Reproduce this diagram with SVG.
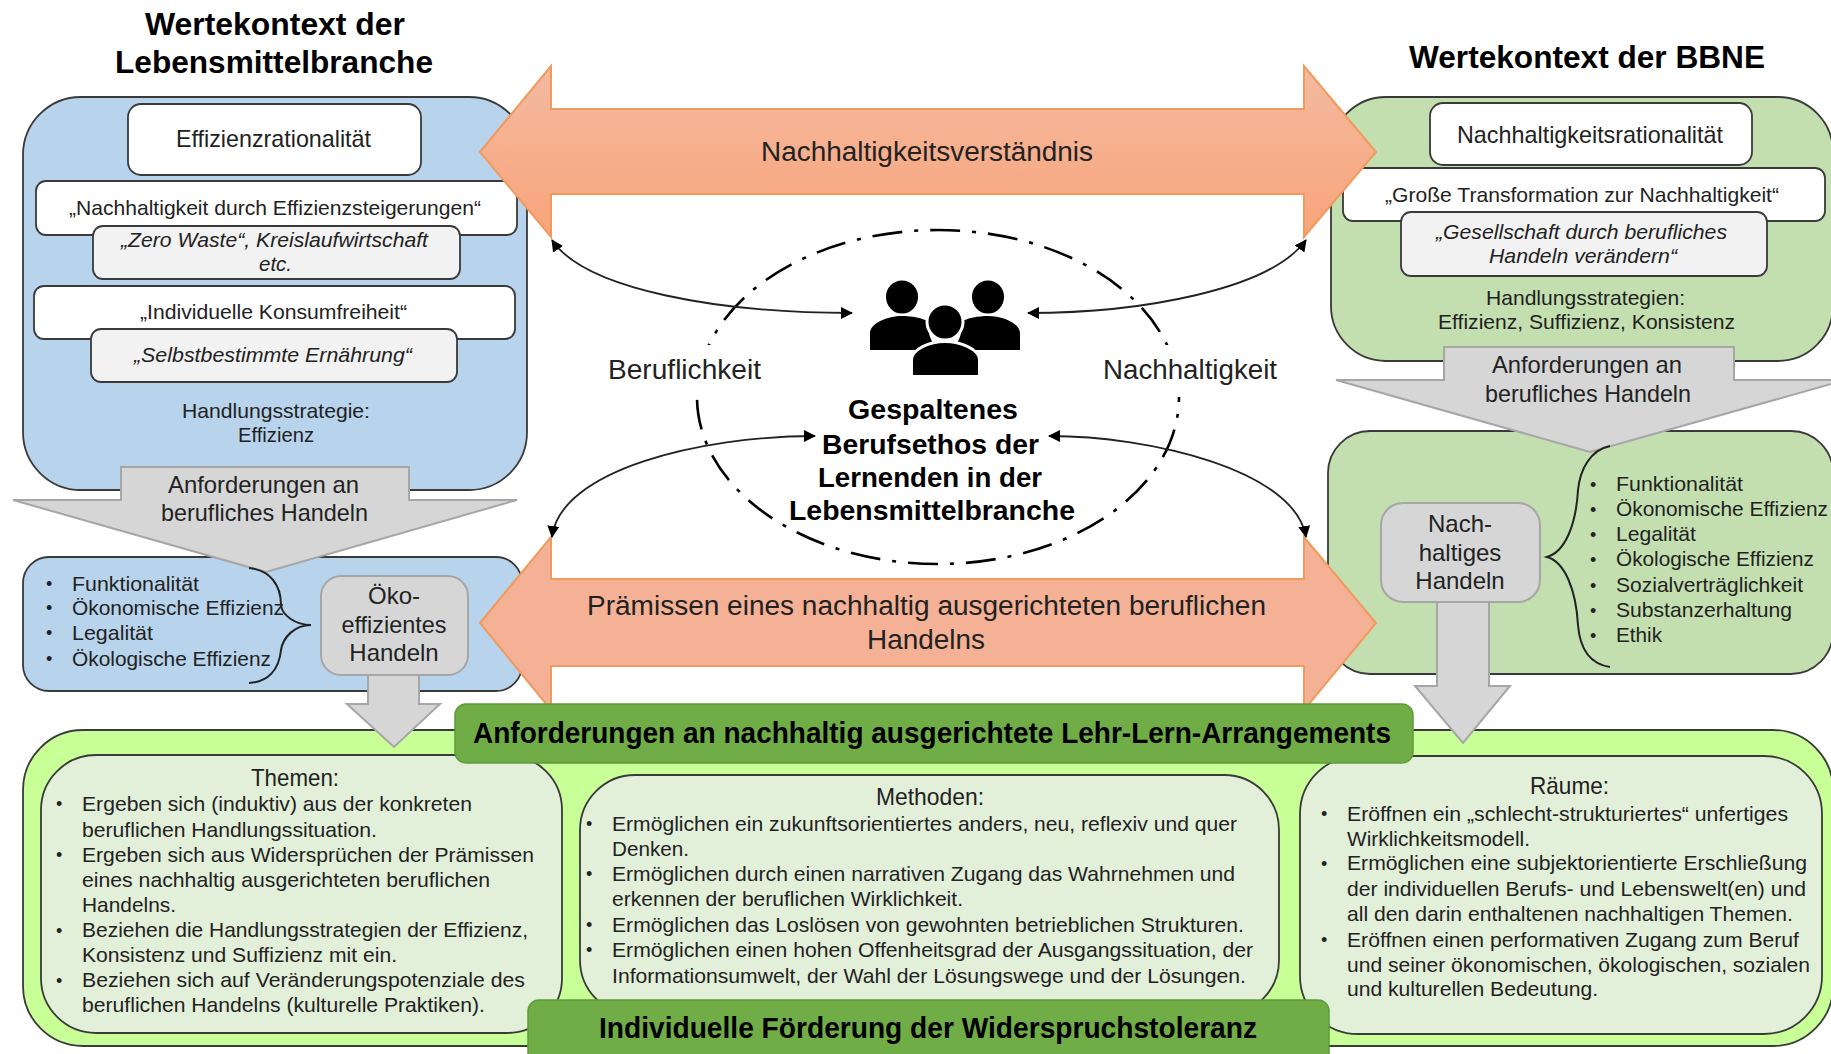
<svg xmlns="http://www.w3.org/2000/svg" width="1831" height="1054" viewBox="0 0 1831 1054">
<style>
text{font-family:"Liberation Sans",Arial,sans-serif;fill:#222;font-size:21px}
.b{font-weight:bold;fill:#000}
.t{font-size:31px}
.m{font-size:24px}
.l{font-size:27px}
.i{font-style:italic}
.d{font-size:18px}
.box{stroke:#3a3a3a;stroke-width:1.8}
.w{fill:#fff}
.g{fill:#f2f2f2}
.blue{fill:#b8d3ec}
.green{fill:#c3dfb0}
.lime{fill:#c8ff96}
.pale{fill:#e2efd9}
.gray{fill:#d6d6d6;stroke:#a6a6a6;stroke-width:2}
.bar{fill:#70ad47;stroke:#5f9b3a;stroke-width:1.5}
.or{stroke:#f09a5e;stroke-width:2}
.brace{fill:none;stroke:#222;stroke-width:2}
.cv{fill:none;stroke:#222;stroke-width:1.8;marker-start:url(#ah);marker-end:url(#ah)}
.p{fill:#000}
.pc{fill:#000;stroke:#fff;stroke-width:3}
</style>
<defs>
<marker id="ah" markerUnits="userSpaceOnUse" markerWidth="14" markerHeight="14" refX="11" refY="6" orient="auto-start-reverse"><path d="M0,0L12,6L0,12z" fill="#000"/></marker>
<linearGradient id="og" x1="0" y1="0" x2="0" y2="1"><stop offset="0" stop-color="#f4baa0"/><stop offset="1" stop-color="#f8a47a"/></linearGradient>
</defs>
<rect width="1831" height="1054" fill="#fff"/>

<g id="title-left">
<text class="b t" x="145" y="35" textLength="260" lengthAdjust="spacingAndGlyphs">Wertekontext der</text>
<text class="b t" x="115" y="73" textLength="318" lengthAdjust="spacingAndGlyphs">Lebensmittelbranche</text>
</g>
<g id="title-right">
<text class="b t" x="1409" y="68" textLength="356" lengthAdjust="spacingAndGlyphs">Wertekontext der BBNE</text>
</g>

<g id="left-value-context">
<rect class="box blue" x="23" y="97" width="504" height="393" rx="58"/>
<rect class="box w" x="128" y="104" width="293" height="71" rx="13"/>
<text class="m" x="176" y="147" textLength="195" lengthAdjust="spacingAndGlyphs">Effizienzrationalität</text>
<rect class="box w" x="36" y="181" width="481" height="54" rx="10"/>
<text x="69" y="215" textLength="412" lengthAdjust="spacingAndGlyphs">„Nachhaltigkeit durch Effizienzsteigerungen“</text>
<rect class="box g" x="93" y="226" width="367" height="53" rx="10"/>
<text class="i" x="121" y="247" textLength="307" lengthAdjust="spacingAndGlyphs">„Zero Waste“, Kreislaufwirtschaft</text>
<text class="i" x="259" y="271" textLength="33" lengthAdjust="spacingAndGlyphs">etc.</text>
<rect class="box w" x="34" y="286" width="481" height="53" rx="10"/>
<text x="140" y="319" textLength="267" lengthAdjust="spacingAndGlyphs">„Individuelle Konsumfreiheit“</text>
<rect class="box g" x="91" y="329" width="366" height="53" rx="10"/>
<text class="i" x="134" y="362" textLength="278" lengthAdjust="spacingAndGlyphs">„Selbstbestimmte Ernährung“</text>
<text x="182" y="418" textLength="188" lengthAdjust="spacingAndGlyphs">Handlungsstrategie:</text>
<text x="238" y="442" textLength="76" lengthAdjust="spacingAndGlyphs">Effizienz</text>
</g>

<g id="left-lower">
<rect class="box blue" x="23" y="557" width="499" height="134" rx="26"/>
<text class="d" x="46" y="590">•</text><text x="72" y="591" textLength="127" lengthAdjust="spacingAndGlyphs">Funktionalität</text>
<text class="d" x="46" y="614">•</text><text x="72" y="615" textLength="212" lengthAdjust="spacingAndGlyphs">Ökonomische Effizienz</text>
<text class="d" x="46" y="639">•</text><text x="72" y="640" textLength="81" lengthAdjust="spacingAndGlyphs">Legalität</text>
<text class="d" x="46" y="665">•</text><text x="72" y="666" textLength="199" lengthAdjust="spacingAndGlyphs">Ökologische Effizienz</text>
</g>

<g id="right-value-context">
<rect class="box green" x="1331" y="97" width="502" height="264" rx="55"/>
<rect class="box w" x="1430" y="103" width="322" height="62" rx="13"/>
<text class="m" x="1457" y="143" textLength="266" lengthAdjust="spacingAndGlyphs">Nachhaltigkeitsrationalität</text>
<rect class="box w" x="1343" y="168" width="482" height="53" rx="10"/>
<text x="1385" y="202" textLength="394" lengthAdjust="spacingAndGlyphs">„Große Transformation zur Nachhaltigkeit“</text>
<rect class="box g" x="1401" y="212" width="366" height="64" rx="10"/>
<text class="i" x="1436" y="239" textLength="291" lengthAdjust="spacingAndGlyphs">„Gesellschaft durch berufliches</text>
<text class="i" x="1489" y="263" textLength="188" lengthAdjust="spacingAndGlyphs">Handeln verändern“</text>
<text x="1486" y="305" textLength="199" lengthAdjust="spacingAndGlyphs">Handlungsstrategien:</text>
<text x="1438" y="329" textLength="297" lengthAdjust="spacingAndGlyphs">Effizienz, Suffizienz, Konsistenz</text>
</g>

<g id="right-lower">
<rect class="box green" x="1328" y="431" width="505" height="243" rx="42"/>
<text class="d" x="1590" y="491">•</text><text x="1616" y="491" textLength="127" lengthAdjust="spacingAndGlyphs">Funktionalität</text>
<text class="d" x="1590" y="516">•</text><text x="1616" y="516" textLength="212" lengthAdjust="spacingAndGlyphs">Ökonomische Effizienz</text>
<text class="d" x="1590" y="541">•</text><text x="1616" y="541" textLength="80" lengthAdjust="spacingAndGlyphs">Legalität</text>
<text class="d" x="1590" y="566">•</text><text x="1616" y="566" textLength="198" lengthAdjust="spacingAndGlyphs">Ökologische Effizienz</text>
<text class="d" x="1590" y="592">•</text><text x="1616" y="592" textLength="187" lengthAdjust="spacingAndGlyphs">Sozialverträglichkeit</text>
<text class="d" x="1590" y="617">•</text><text x="1616" y="617" textLength="176" lengthAdjust="spacingAndGlyphs">Substanzerhaltung</text>
<text class="d" x="1590" y="642">•</text><text x="1616" y="642" textLength="46" lengthAdjust="spacingAndGlyphs">Ethik</text>
</g>

<g id="arrow-nachhaltigkeitsverstaendnis">
<path class="or" d="M480,152L551,66V109H1304V66L1376,152L1304,237V194H551V237z" fill="url(#og)"/>
<text class="l" x="761" y="161" textLength="332" lengthAdjust="spacingAndGlyphs">Nachhaltigkeitsverständnis</text>
</g>
<g id="arrow-praemissen">
<path class="or" d="M480,623L551,537V579H1304V537L1376,623L1304,710V666H551V710z" fill="#f4b196"/>
<text class="l" x="587" y="615" textLength="679" lengthAdjust="spacingAndGlyphs">Prämissen eines nachhaltig ausgerichteten beruflichen</text>
<text class="l" x="867" y="649" textLength="118" lengthAdjust="spacingAndGlyphs">Handelns</text>
</g>

<g id="arrow-left-req">
<path class="gray" d="M121,467H409V500H517L266,572L13,500H121z"/>
<text class="m" x="168" y="493" textLength="191" lengthAdjust="spacingAndGlyphs">Anforderungen an</text>
<text class="m" x="161" y="521" textLength="207" lengthAdjust="spacingAndGlyphs">berufliches Handeln</text>
</g>
<g id="arrow-right-req">
<path class="gray" d="M1444,347H1734V380H1845L1590,452L1336,380H1444z"/>
<text class="m" x="1492" y="373" textLength="190" lengthAdjust="spacingAndGlyphs">Anforderungen an</text>
<text class="m" x="1485" y="402" textLength="206" lengthAdjust="spacingAndGlyphs">berufliches Handeln</text>
</g>

<g id="central">
<ellipse cx="938" cy="397" rx="241" ry="167" fill="none" stroke="#000" stroke-width="2.6" stroke-dasharray="30 12 4 12" stroke-dashoffset="25"/>
<path class="p" d="M870,350V333C870,323 888,316 902,316C912,316 922,318 930,322C926,334 932,346 944,352C940,350 926,350 922,350z"/>
<path class="p" d="M1020,350V333C1020,323 1002,316 988,316C978,316 968,318 960,322C964,334 958,346 946,352C950,350 966,350 970,350z"/>
<ellipse class="p" cx="902" cy="297" rx="16" ry="16.5"/>
<ellipse class="p" cx="988" cy="297" rx="16" ry="16.5"/>
<path class="pc" d="M911.5,376.500V360C911.500,349 930,341.500 945,341.500C960,341.500 979.500,349 979.500,360V376.500z"/>
<ellipse class="pc" cx="945" cy="322" rx="18" ry="18"/>
<rect x="604" y="345" width="162" height="48" fill="#fff"/>
<rect x="1099" y="345" width="182" height="48" fill="#fff"/>
<text class="l" x="608" y="379" textLength="153" lengthAdjust="spacingAndGlyphs">Beruflichkeit</text>
<text class="l" x="1103" y="379" textLength="174" lengthAdjust="spacingAndGlyphs">Nachhaltigkeit</text>
<text class="b" style="font-size:28px" x="848" y="419" textLength="170" lengthAdjust="spacingAndGlyphs">Gespaltenes</text>
<text class="b" style="font-size:28px" x="822" y="454" textLength="217" lengthAdjust="spacingAndGlyphs">Berufsethos der</text>
<text class="b" style="font-size:28px" x="818" y="487" textLength="224" lengthAdjust="spacingAndGlyphs">Lernenden in der</text>
<text class="b" style="font-size:28px" x="789" y="520" textLength="286" lengthAdjust="spacingAndGlyphs">Lebensmittelbranche</text>
</g>

<g id="connectors">
<path class="cv" d="M552,240C585,290 720,313 852,313"/>
<path class="cv" d="M1306,240C1270,290 1140,313 1028,313"/>
<path class="cv" d="M815,436C700,436 560,470 552,537"/>
<path class="cv" d="M1049,436C1150,436 1295,470 1306,537"/>
<path class="brace" d="M249,568C270,570 281,585 281,605C282,615 295,625 311,625C295,625 283,637 281,650C279,670 268,682 249,683"/>
<path class="brace" d="M1610,446C1590,450 1580,470 1578,490C1576,525 1565,552 1547,557C1565,562 1576,590 1578,625C1580,650 1590,664 1610,667"/>
</g>

<g id="outer-bottom">
<rect class="box lime" x="23" y="730" width="1810" height="316" rx="60"/>
</g>

<g id="arrow-oeko">
<path class="gray" d="M368,660H419V704H440L394,747L347,704H368z"/>
</g>
<g id="node-oeko">
<rect x="321" y="576" width="147" height="99" rx="20" fill="#d6d6d6" stroke="#a6a6a6" stroke-width="2"/>
<text class="m" x="394" y="604" text-anchor="middle">Öko-</text>
<text class="m" x="394" y="633" text-anchor="middle" textLength="105" lengthAdjust="spacingAndGlyphs">effizientes</text>
<text class="m" x="394" y="661" text-anchor="middle">Handeln</text>
</g>
<g id="arrow-nachhaltig">
<path class="gray" d="M1437,590H1489V686H1510L1463,743L1415,686H1437z"/>
</g>
<g id="node-nachhaltig">
<rect x="1381" y="503" width="159" height="99" rx="22" fill="#d6d6d6" stroke="#a6a6a6" stroke-width="2"/>
<text class="m" x="1460" y="532" text-anchor="middle">Nach-</text>
<text class="m" x="1460" y="561" text-anchor="middle">haltiges</text>
<text class="m" x="1460" y="589" text-anchor="middle">Handeln</text>
</g>

<g id="themen">
<rect class="box pale" x="41" y="755" width="521" height="278" rx="55"/>
<text class="m" x="251" y="786" textLength="88" lengthAdjust="spacingAndGlyphs">Themen:</text>
<text class="d" x="56" y="810">•</text><text x="82" y="811" textLength="390" lengthAdjust="spacingAndGlyphs">Ergeben sich (induktiv) aus der konkreten</text>
<text x="82" y="837" textLength="295" lengthAdjust="spacingAndGlyphs">beruflichen Handlungssituation.</text>
<text class="d" x="56" y="861">•</text><text x="82" y="862" textLength="452" lengthAdjust="spacingAndGlyphs">Ergeben sich aus Widersprüchen der Prämissen</text>
<text x="82" y="887" textLength="408" lengthAdjust="spacingAndGlyphs">eines nachhaltig ausgerichteten beruflichen</text>
<text x="82" y="912" textLength="94" lengthAdjust="spacingAndGlyphs">Handelns.</text>
<text class="d" x="56" y="937">•</text><text x="82" y="937" textLength="446" lengthAdjust="spacingAndGlyphs">Beziehen die Handlungsstrategien der Effizienz,</text>
<text x="82" y="962" textLength="315" lengthAdjust="spacingAndGlyphs">Konsistenz und Suffizienz mit ein.</text>
<text class="d" x="56" y="987">•</text><text x="82" y="987" textLength="443" lengthAdjust="spacingAndGlyphs">Beziehen sich auf Veränderungspotenziale des</text>
<text x="82" y="1012" textLength="403" lengthAdjust="spacingAndGlyphs">beruflichen Handelns (kulturelle Praktiken).</text>
</g>

<g id="methoden">
<rect class="box pale" x="580" y="775" width="699" height="240" rx="55"/>
<text class="m" x="876" y="805" textLength="108" lengthAdjust="spacingAndGlyphs">Methoden:</text>
<text class="d" x="586" y="830">•</text><text x="612" y="831" textLength="625" lengthAdjust="spacingAndGlyphs">Ermöglichen ein zukunftsorientiertes anders, neu, reflexiv und quer</text>
<text x="612" y="856" textLength="77" lengthAdjust="spacingAndGlyphs">Denken.</text>
<text class="d" x="586" y="880">•</text><text x="612" y="881" textLength="623" lengthAdjust="spacingAndGlyphs">Ermöglichen durch einen narrativen Zugang das Wahrnehmen und</text>
<text x="612" y="906" textLength="351" lengthAdjust="spacingAndGlyphs">erkennen der beruflichen Wirklichkeit.</text>
<text class="d" x="586" y="931">•</text><text x="612" y="932" textLength="632" lengthAdjust="spacingAndGlyphs">Ermöglichen das Loslösen von gewohnten betrieblichen Strukturen.</text>
<text class="d" x="586" y="956">•</text><text x="612" y="957" textLength="641" lengthAdjust="spacingAndGlyphs">Ermöglichen einen hohen Offenheitsgrad der Ausgangssituation, der</text>
<text x="612" y="983" textLength="634" lengthAdjust="spacingAndGlyphs">Informationsumwelt, der Wahl der Lösungswege und der Lösungen.</text>
</g>

<g id="raeume">
<rect class="box pale" x="1300" y="756" width="522" height="278" rx="58"/>
<text class="m" x="1530" y="794" textLength="79" lengthAdjust="spacingAndGlyphs">Räume:</text>
<text class="d" x="1321" y="820">•</text><text x="1347" y="821" textLength="441" lengthAdjust="spacingAndGlyphs">Eröffnen ein „schlecht-strukturiertes“ unfertiges</text>
<text x="1347" y="846" textLength="183" lengthAdjust="spacingAndGlyphs">Wirklichkeitsmodell.</text>
<text class="d" x="1321" y="870">•</text><text x="1347" y="870" textLength="460" lengthAdjust="spacingAndGlyphs">Ermöglichen eine subjektorientierte Erschließung</text>
<text x="1347" y="896" textLength="459" lengthAdjust="spacingAndGlyphs">der individuellen Berufs- und Lebenswelt(en) und</text>
<text x="1347" y="921" textLength="446" lengthAdjust="spacingAndGlyphs">all den darin enthaltenen nachhaltigen Themen.</text>
<text class="d" x="1321" y="946">•</text><text x="1347" y="947" textLength="452" lengthAdjust="spacingAndGlyphs">Eröffnen einen performativen Zugang zum Beruf</text>
<text x="1347" y="972" textLength="463" lengthAdjust="spacingAndGlyphs">und seiner ökonomischen, ökologischen, sozialen</text>
<text x="1347" y="996" textLength="251" lengthAdjust="spacingAndGlyphs">und kulturellen Bedeutung.</text>
</g>

<g id="bar-top">
<rect class="bar" x="455" y="704" width="958" height="59" rx="11"/>
<text class="b" style="font-size:29px" x="473" y="743" textLength="918" lengthAdjust="spacingAndGlyphs">Anforderungen an nachhaltig ausgerichtete Lehr-Lern-Arrangements</text>
</g>
<g id="bar-bottom">
<rect class="bar" x="528" y="1000" width="801" height="70" rx="11"/>
<text class="b" style="font-size:29px" x="599" y="1038" textLength="658" lengthAdjust="spacingAndGlyphs">Individuelle Förderung der Widerspruchstoleranz</text>
</g>
</svg>
